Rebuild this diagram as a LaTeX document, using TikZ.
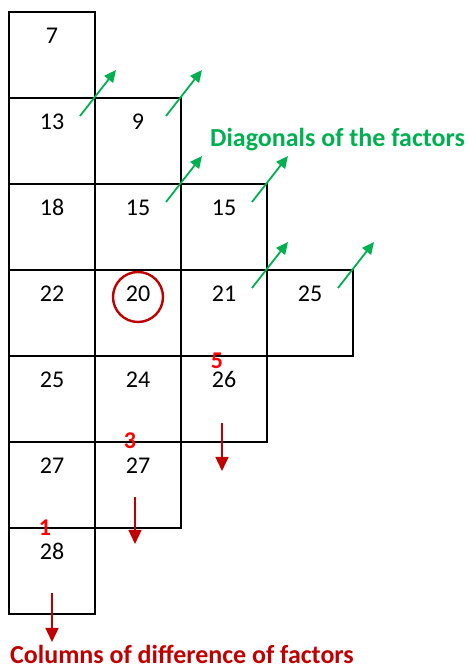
\documentclass[tikz,border=0pt]{standalone}
\usepackage{fontspec}
\setmainfont{Carlito}
\usepackage{xcolor}
\definecolor{diagGreen}{HTML}{00B050}
\definecolor{darkRed}{HTML}{C00000}
\definecolor{brightRed}{HTML}{FF0000}
\usepackage{tikz}
\usetikzlibrary{arrows.meta, positioning}

\begin{document}
\begin{tikzpicture}[
    x=1pt, y=1pt,
    font=\fontsize{24}{28}\selectfont,
    numCell/.style={draw=black, line width=1.2pt, minimum width=86pt, minimum height=86pt, inner sep=0pt, outer sep=0pt, text height=32pt, text depth=54pt, font=\fontsize{24}{28}\selectfont},
    diffNum/.style={text=brightRed, font=\fontsize{24}{28}\selectfont\bfseries, inner sep=0pt},
    ringNode/.style={draw=darkRed, line width=2.4pt, circle, minimum size=50pt, inner sep=0pt},
    diagArrow/.style={draw=diagGreen, line width=1.8pt, -{Triangle[length=12pt, width=11pt]}},
    diffArrow/.style={draw=darkRed, line width=1.4pt, -{Triangle[length=14pt, width=13pt]}},
    titleNode/.style={font=\fontsize{26}{30}\selectfont\bfseries, inner sep=0pt, anchor=base west}
]
\useasboundingbox (0,0) rectangle (467,666);

% Column 1
\node[numCell] (c11) at (52,611) {7};
\node[numCell, below=0pt of c11] (c21) {13};
\node[numCell, below=0pt of c21] (c31) {18};
\node[numCell, below=0pt of c31] (c41) {22};
\node[numCell, below=0pt of c41] (c51) {25};
\node[numCell, below=0pt of c51] (c61) {27};
\node[numCell, below=0pt of c61] (c71) {28};

% Column 2
\node[numCell, right=0pt of c21] (c22) {9};
\node[numCell, below=0pt of c22] (c32) {15};
\node[numCell, below=0pt of c32] (c42) {20};
\node[numCell, below=0pt of c42] (c52) {24};
\node[numCell, below=0pt of c52] (c62) {27};

% Column 3
\node[numCell, right=0pt of c32] (c33) {15};
\node[numCell, below=0pt of c33] (c43) {21};
\node[numCell, below=0pt of c43] (c53) {26};

% Column 4
\node[numCell, right=0pt of c43] (c44) {25};

% Ring round the 20
\node[ringNode] (ring) at ([yshift=-27pt]c42.north) {};

% Differences on the column heads
\node[diffNum] (d1) at ([xshift=-7pt]c71.north) {1};
\node[diffNum] (d3) at ([xshift=-8pt, yshift=1pt]c62.north) {3};
\node[diffNum] (d5) at ([xshift=-7pt, yshift=-5pt]c53.north) {5};

% Diagonal arrows through the corners
\foreach \c in {c21, c22, c32, c33, c43, c44}
    \draw[diagArrow] ([shift={(-15pt,-18pt)}]\c.north east) -- ([shift={(21pt,28pt)}]\c.north east);

% Column arrows
\coordinate (a1s) at ([yshift=21pt]c71.south);
\coordinate (a1e) at ([yshift=-28pt]c71.south);
\coordinate (a3s) at ([xshift=-3pt, yshift=31pt]c62.south);
\coordinate (a3e) at ([xshift=-3pt, yshift=-16pt]c62.south);
\coordinate (a5s) at ([xshift=-2pt, yshift=19pt]c53.south);
\coordinate (a5e) at ([xshift=-2pt, yshift=-29pt]c53.south);
\draw[diffArrow] (a1s) -- (a1e);
\draw[diffArrow] (a3s) -- (a3e);
\draw[diffArrow] (a5s) -- (a5e);

% Captions
\node[titleNode, text=diagGreen] (diagText) at (210,519) {Diagonals of the factors};
\node[titleNode, text=darkRed] (colText) at (10,2) {Columns of difference of factors};

\end{tikzpicture}
\end{document}
